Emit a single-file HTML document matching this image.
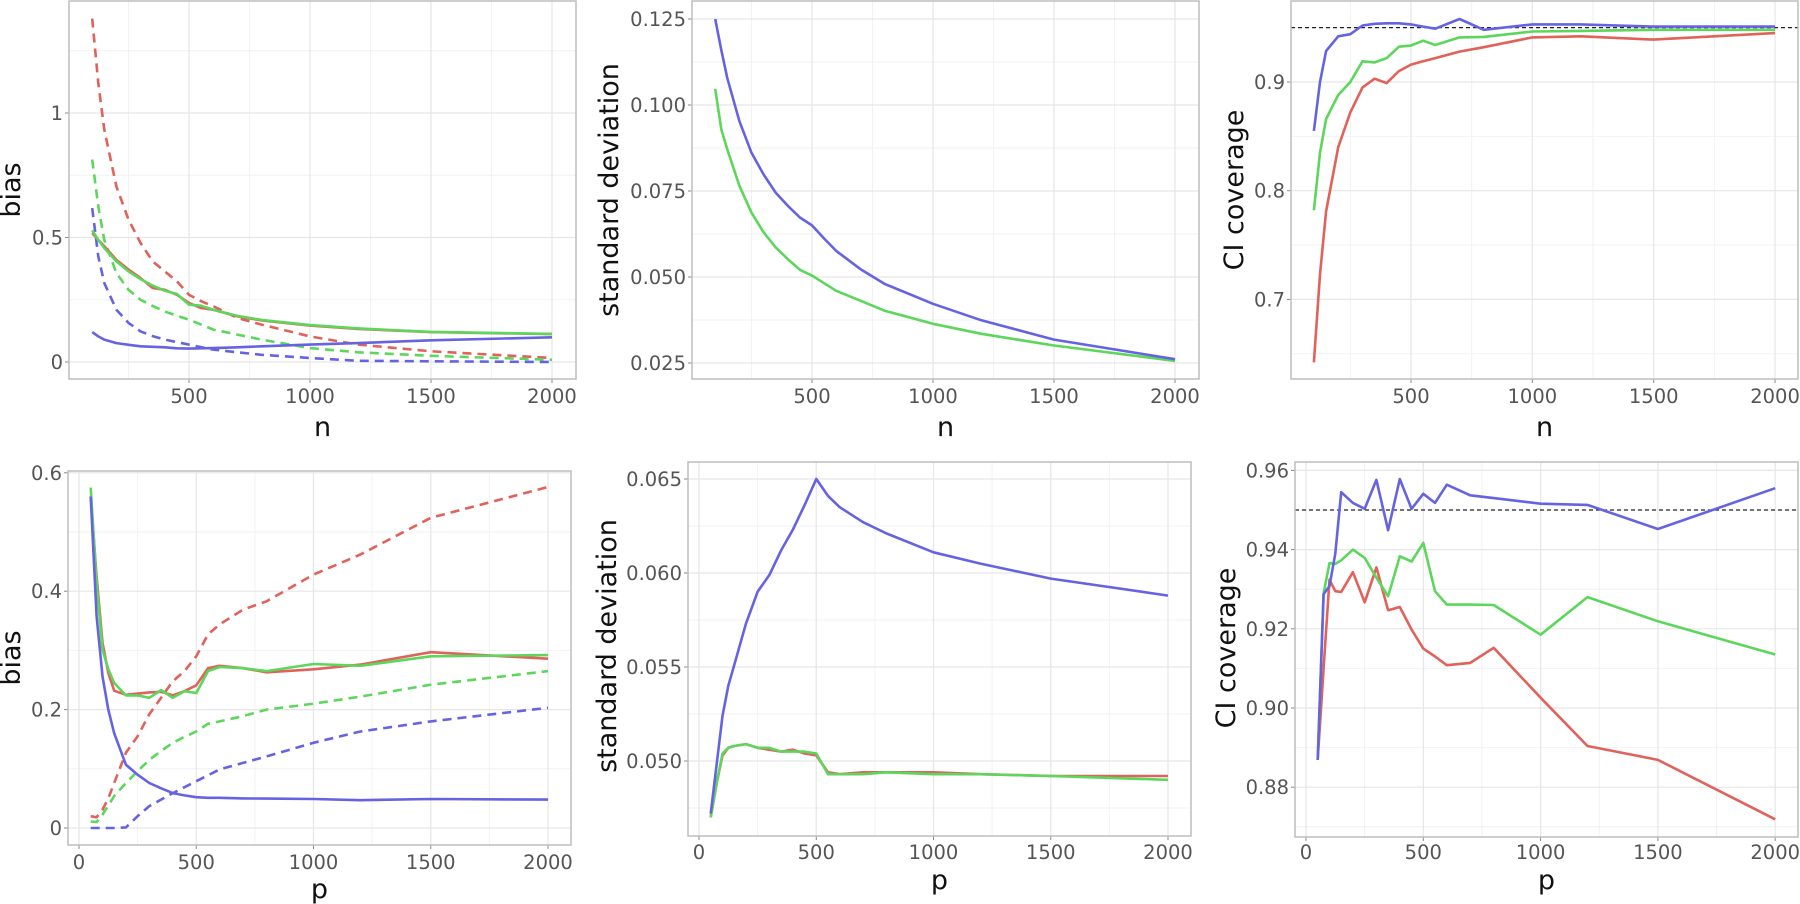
<!DOCTYPE html>
<html><head><meta charset="utf-8">
<style>
html,body{margin:0;padding:0;background:#fff;}
svg{display:block;font-family:"DejaVu Sans","Liberation Sans",sans-serif;}
</style></head>
<body>
<svg id="chart" width="1800" height="904" viewBox="0 0 1800 904" xmlns="http://www.w3.org/2000/svg"></svg>
<script>
// ---- data ----
const nTop = [100,125,150,200,250,300,350,400,450,500,550,600,700,800,1000,1200,1500,2000];
const p1RedDash   = [1.379,1.12,0.933,0.705,0.572,0.478,0.404,0.364,0.324,0.27,0.244,0.224,0.177,0.15,0.103,0.07,0.043,0.016];
const p1GreenDash = [0.813,0.625,0.49,0.357,0.29,0.25,0.225,0.203,0.186,0.17,0.15,0.13,0.11,0.09,0.056,0.039,0.025,0.009];
const p1BlueDash  = [0.618,0.424,0.317,0.21,0.157,0.123,0.104,0.09,0.08,0.07,0.06,0.05,0.039,0.029,0.016,0.005,0.003,0.0];
const p1Red   = [0.518,0.49,0.465,0.41,0.371,0.337,0.297,0.29,0.27,0.237,0.217,0.21,0.183,0.167,0.146,0.133,0.12,0.112];
const p1Green = [0.529,0.49,0.458,0.404,0.364,0.333,0.307,0.286,0.273,0.23,0.226,0.21,0.185,0.169,0.148,0.135,0.121,0.113];
const p1Blue  = [0.12,0.103,0.09,0.076,0.069,0.063,0.061,0.059,0.055,0.054,0.055,0.056,0.059,0.063,0.07,0.076,0.087,0.099];
const p2Blue  = [0.125,0.116,0.1078,0.0953,0.0861,0.0798,0.0745,0.0707,0.0673,0.065,0.0612,0.0576,0.0523,0.048,0.0422,0.0374,0.0318,0.0261];
const p2Green = [0.1047,0.0929,0.0871,0.0765,0.0687,0.063,0.0586,0.0552,0.0521,0.0504,0.0482,0.046,0.0431,0.0402,0.0364,0.0335,0.0301,0.0256];
const p3Blue  = [0.855,0.9,0.9285,0.942,0.944,0.952,0.9535,0.954,0.954,0.953,0.951,0.949,0.958,0.948,0.953,0.953,0.951,0.951];
const p3Green = [0.782,0.835,0.866,0.888,0.9,0.919,0.918,0.922,0.9325,0.9335,0.938,0.934,0.941,0.9415,0.9465,0.947,0.948,0.948];
const p3Red   = [0.642,0.723,0.781,0.84,0.872,0.895,0.903,0.899,0.91,0.916,0.919,0.922,0.928,0.932,0.941,0.942,0.939,0.945];
const pBot = [50,75,100,125,150,200,250,300,350,400,450,500,550,600,700,800,1000,1200,1500,2000];
const p4Blue  = [0.56,0.358,0.256,0.2,0.16,0.107,0.09,0.076,0.067,0.059,0.055,0.052,0.051,0.051,0.05,0.0496,0.049,0.047,0.049,0.048];
const p4Green = [0.575,0.414,0.301,0.268,0.245,0.224,0.224,0.22,0.233,0.22,0.231,0.228,0.265,0.272,0.27,0.265,0.277,0.274,0.29,0.292];
const p4Red   = [0.56,0.425,0.313,0.262,0.232,0.225,0.227,0.229,0.23,0.224,0.231,0.241,0.27,0.274,0.27,0.263,0.268,0.276,0.297,0.286];
const p4RedDash   = [0.02,0.018,0.031,0.05,0.076,0.127,0.155,0.192,0.22,0.248,0.265,0.29,0.327,0.344,0.369,0.383,0.428,0.462,0.524,0.576];
const p4GreenDash = [0.011,0.01,0.0225,0.038,0.054,0.076,0.096,0.115,0.13,0.144,0.154,0.163,0.176,0.18,0.189,0.2,0.21,0.222,0.242,0.265];
const p4BlueDash  = [0,0,0,0,0,0.001,0.02,0.037,0.048,0.059,0.069,0.079,0.089,0.099,0.11,0.121,0.144,0.163,0.18,0.203];
const p5Blue  = [0.0472,0.0498,0.0524,0.054,0.0551,0.0573,0.059,0.0599,0.0612,0.0623,0.0636,0.065,0.0641,0.0635,0.0627,0.0621,0.0611,0.0605,0.0597,0.0588];
const p5Green = [0.047,0.0488,0.0504,0.0507,0.0508,0.0509,0.0507,0.0507,0.0505,0.0505,0.0505,0.0504,0.0493,0.0493,0.0493,0.0494,0.0493,0.0493,0.0492,0.049];
const p5Red   = [0.047,0.0488,0.0503,0.0507,0.0508,0.0509,0.0507,0.0506,0.0505,0.0506,0.0504,0.0503,0.0494,0.0493,0.0494,0.0494,0.0494,0.0493,0.0492,0.0492];
const p6Blue  = [0.8869,0.9287,0.9308,0.939,0.9545,0.9518,0.9503,0.9576,0.9449,0.9578,0.9503,0.9541,0.9518,0.9564,0.9537,0.953,0.9516,0.9513,0.9452,0.9555];
const p6Green = [0.8869,0.929,0.9366,0.9364,0.9373,0.94,0.9379,0.9329,0.9282,0.9383,0.937,0.9417,0.9295,0.9261,0.9261,0.926,0.9185,0.928,0.9219,0.9135];
const p6Red   = [0.8869,0.91,0.9324,0.9295,0.9293,0.9343,0.9267,0.9355,0.9247,0.9255,0.9198,0.915,0.913,0.9108,0.9114,0.9152,0.9026,0.8904,0.8869,0.8719];
const topXTicks = [500,1000,1500,2000];
const botXTicks = [0,500,1000,1500,2000];
const p1YTicks = [0,0.5,1];
const p2YTicks = [0.025,0.05,0.075,0.1,0.125];
const p3YTicks = [0.7,0.8,0.9];
const p4YTicks = [0,0.2,0.4,0.6];
const p5YTicks = [0.05,0.055,0.06,0.065];
const p6YTicks = [0.88,0.9,0.92,0.94,0.96];
const refLevel = [0.95];

const RED="#e0625a", GREEN="#5dd65c", BLUE="#6663e3";
const NS="http://www.w3.org/2000/svg";
const svg=document.getElementById('chart');
function mk(tag,attrs,parent){const e=document.createElementNS(NS,tag);for(const k in attrs)e.setAttribute(k,attrs[k]);(parent||svg).appendChild(e);return e;}

function panel(cfg){
  const g=mk('g',{});
  
  
  const X=v=>cfg.x0+(v-cfg.xv0)*cfg.xs;
  const Y=v=>cfg.y0-(v-cfg.yv0)*cfg.ys;
  const L=cfg.box[0],T=cfg.box[1],R=cfg.box[2],B=cfg.box[3];
  mk('rect',{x:L,y:T,width:R-L,height:B-T,fill:'#fff'},g);
  const xt=cfg.xticks, yt=cfg.yticks;
  const dx=xt[1]-xt[0], dy=yt[1]-yt[0];
  for(let v=xt[0]-dx/2; v<=xt[xt.length-1]+dx; v+=dx){const px=X(v);if(px>L&&px<R){mk('line',{x1:px,x2:px,y1:T,y2:B,stroke:'#f2f2f2','stroke-width':1},g);}}
  for(let v=yt[0]-dy/2; v<=yt[yt.length-1]+dy; v+=dy){const py=Y(v);if(py>T&&py<B){mk('line',{x1:L,x2:R,y1:py,y2:py,stroke:'#f2f2f2','stroke-width':1},g);}}
  xt.forEach(v=>{const px=X(v);
    const gl=mk('line',{x1:px,x2:px,y1:T,y2:B,stroke:'#e6e6e6','stroke-width':1.2},g);
    
    
    mk('line',{x1:px,x2:px,y1:B,y2:B+4,stroke:'#888','stroke-width':1},g);
    const t=mk('text',{x:px,y:cfg.xlabY,'text-anchor':'middle','font-size':19.5,fill:'#555'},g);t.textContent=v;
    
    
  });
  yt.forEach(v=>{const py=Y(v);
    const gl=mk('line',{x1:L,x2:R,y1:py,y2:py,stroke:'#e6e6e6','stroke-width':1.2},g);
    
    
    mk('line',{x1:L-4,x2:L,y1:py,y2:py,stroke:'#888','stroke-width':1},g);
    const t=mk('text',{x:L-6,y:py+7,'text-anchor':'end','font-size':19.5,fill:'#555'},g);t.textContent=cfg.fmt(v);
    
    
  });
  if(cfg.ref){cfg.ref.forEach(r=>{const l=mk('line',{x1:L,x2:R,y1:Y(r),y2:Y(r),stroke:'#222','stroke-width':1.3,'stroke-dasharray':'4,3'},g);
    
    });}
  const cp='clip'+cfg.name;
  const cl=mk('clipPath',{id:cp},g);mk('rect',{x:L,y:T,width:R-L,height:B-T},cl);
  cfg.series.forEach(s=>{
    const d=s.vals.map((v,i)=>(i?'L':'M')+X(cfg.xs_vals[i]).toFixed(1)+','+Y(v).toFixed(1)).join(' ');
    const p=mk('path',{d:d,fill:'none',stroke:s.color,'stroke-width':2.6,'stroke-linejoin':'round','clip-path':'url(#'+cp+')'},g);
    if(s.dash)p.setAttribute('stroke-dasharray','9,6');
    
    
  });
  mk('rect',{x:L,y:T,width:R-L,height:B-T,fill:'none',stroke:'#bdbdbd','stroke-width':1.5},g);
  const xtit=mk('text',{x:(L+R)/2,y:cfg.xtitY,'text-anchor':'middle','font-size':27,fill:'#111'},g);xtit.textContent=cfg.xtitle;
  
  
  const ytit=mk('text',{x:0,y:0,'text-anchor':'middle','font-size':27,fill:'#111',transform:`translate(${cfg.ytitX},${cfg.ytitY}) rotate(-90)`},g);ytit.textContent=cfg.ytitle;
  
  
}
const f=v=>String(v);
const f3=v=>v.toFixed(3);
const f2=v=>v.toFixed(2);
const f1=v=>v.toFixed(1);
panel({name:'bias-vs-n',box:[69,1,576,379],x0:189,xv0:500,xs:0.242,y0:362,yv0:0,ys:249,xticks:topXTicks,yticks:p1YTicks,fmt:f,xlabY:403,xtitY:436,xtitle:'n',ytitX:20,ytitY:190,ytitle:'bias',xs_vals:nTop,
 series:[{name:'bias-red-dashed',vals:p1RedDash,color:RED,dash:1},{name:'bias-green-dashed',vals:p1GreenDash,color:GREEN,dash:1},{name:'bias-blue-dashed',vals:p1BlueDash,color:BLUE,dash:1},
 {name:'bias-red',vals:p1Red,color:RED},{name:'bias-green',vals:p1Green,color:GREEN},{name:'bias-blue',vals:p1Blue,color:BLUE}]});
panel({name:'sd-vs-n',box:[692,1,1199,379],x0:812,xv0:500,xs:0.242,y0:363,yv0:0.025,ys:3440,xticks:topXTicks,yticks:p2YTicks,fmt:f3,xlabY:403,xtitY:436,xtitle:'n',ytitX:618,ytitY:190,ytitle:'standard deviation',xs_vals:nTop,
 series:[{name:'sd-green',vals:p2Green,color:GREEN},{name:'sd-blue',vals:p2Blue,color:BLUE}]});
panel({name:'coverage-vs-n',box:[1291,1,1798,379],x0:1411,xv0:500,xs:0.2427,y0:82,yv0:0.9,ys:1087,xticks:topXTicks,yticks:p3YTicks,fmt:f1,xlabY:403,xtitY:436,xtitle:'n',ytitX:1243,ytitY:190,ytitle:'CI coverage',xs_vals:nTop,ref:refLevel,
 series:[{name:'coverage-red',vals:p3Red,color:RED},{name:'coverage-green',vals:p3Green,color:GREEN},{name:'coverage-blue',vals:p3Blue,color:BLUE}]});
panel({name:'bias-vs-p',box:[68,471,571,845],x0:79,xv0:0,xs:0.2345,y0:828,yv0:0,ys:592,xticks:botXTicks,yticks:p4YTicks,fmt:f,xlabY:869,xtitY:898,xtitle:'p',ytitX:20,ytitY:658,ytitle:'bias',xs_vals:pBot,
 series:[{name:'bias-red-dashed',vals:p4RedDash,color:RED,dash:1},{name:'bias-green-dashed',vals:p4GreenDash,color:GREEN,dash:1},{name:'bias-blue-dashed',vals:p4BlueDash,color:BLUE,dash:1},
 {name:'bias-red',vals:p4Red,color:RED},{name:'bias-green',vals:p4Green,color:GREEN},{name:'bias-blue',vals:p4Blue,color:BLUE}]});
panel({name:'sd-vs-p',box:[688,462,1191,836],x0:699,xv0:0,xs:0.2345,y0:761,yv0:0.05,ys:18800,xticks:botXTicks,yticks:p5YTicks,fmt:f3,xlabY:859,xtitY:889,xtitle:'p',ytitX:616,ytitY:646,ytitle:'standard deviation',xs_vals:pBot,
 series:[{name:'sd-red',vals:p5Red,color:RED},{name:'sd-green',vals:p5Green,color:GREEN},{name:'sd-blue',vals:p5Blue,color:BLUE}]});
panel({name:'coverage-vs-p',box:[1295,462,1798,837],x0:1306,xv0:0,xs:0.2346,y0:708,yv0:0.9,ys:3960,xticks:botXTicks,yticks:p6YTicks,fmt:f2,xlabY:859,xtitY:889,xtitle:'p',ytitX:1235,ytitY:648,ytitle:'CI coverage',xs_vals:pBot,ref:refLevel,
 series:[{name:'coverage-red',vals:p6Red,color:RED},{name:'coverage-green',vals:p6Green,color:GREEN},{name:'coverage-blue',vals:p6Blue,color:BLUE}]});
</script>
</body></html>
